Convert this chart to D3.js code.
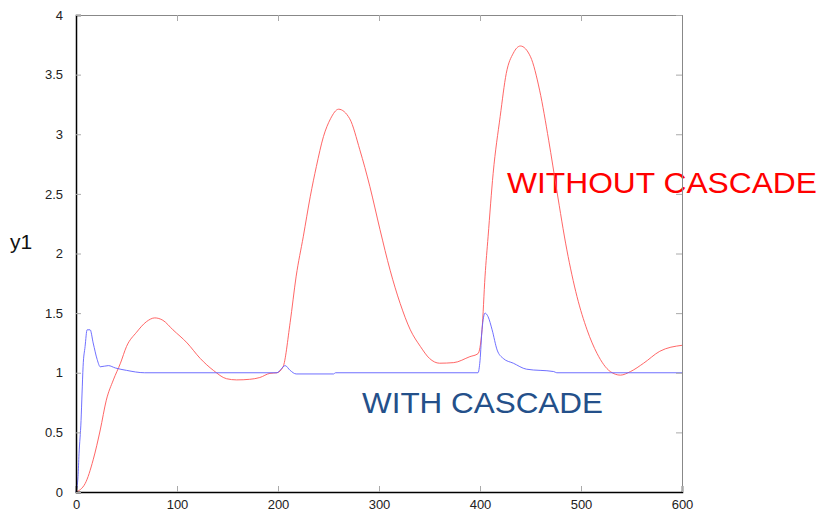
<!DOCTYPE html>
<html>
<head>
<meta charset="utf-8">
<script src="https://cdn.jsdelivr.net/npm/d3@7"></script>
<style>
  body { margin: 0; background: #fff; }
  svg text { font-family: "Liberation Sans", Arial, sans-serif; }
</style>
</head>
<body>
<svg id="chart" width="822" height="510"></svg>
<script>
// values
const xTicks = [0, 100, 200, 300, 400, 500, 600];
const yTicks = [0, 0.5, 1, 1.5, 2, 2.5, 3, 3.5, 4];

const withoutX = [0, 9, 17, 24, 30, 37, 44, 50, 60, 70, 78, 86, 96, 110, 123, 136, 149, 159, 172, 182, 192, 199,
  205, 212, 218, 225, 232, 238, 245, 252, 260, 271, 281, 291, 301, 311, 321, 331, 341, 350, 360, 374, 390, 398,
  402, 405, 408, 413, 420, 426, 433, 440, 450, 459, 468, 476, 486, 496, 506, 516, 529, 539, 549, 562, 578, 600];
const withoutY = [0, 0.07, 0.27, 0.52, 0.77, 0.94, 1.08, 1.22, 1.34, 1.43, 1.46, 1.44, 1.36, 1.25, 1.12, 1.02, 0.95, 0.94, 0.945, 0.96, 0.995, 1.0,
  1.05, 1.42, 1.81, 2.14, 2.48, 2.73, 2.98, 3.13, 3.21, 3.13, 2.87, 2.56, 2.2, 1.86, 1.58, 1.36, 1.22, 1.12, 1.08, 1.085, 1.135, 1.16,
  1.36, 1.81, 2.14, 2.67, 3.15, 3.51, 3.68, 3.74, 3.65, 3.37, 2.95, 2.53, 2.03, 1.64, 1.36, 1.16, 1.01, 0.98, 1.01, 1.08, 1.18, 1.23];

const withX = [0, 2, 3, 5, 6, 7, 9, 11, 14, 17, 21, 24, 32, 39, 50, 68, 199, 203, 207, 212, 218, 255, 257,
  398, 400, 402, 405, 408, 412, 417, 423, 433, 446, 473, 476, 600];
const withY = [0, 0.13, 0.32, 0.6, 0.83, 1.05, 1.22, 1.36, 1.36, 1.25, 1.11, 1.05, 1.06, 1.04, 1.02, 1.0, 1.0, 1.03, 1.06, 1.02, 0.99, 0.99, 1.0,
  1.0, 1.1, 1.36, 1.5, 1.47, 1.36, 1.19, 1.12, 1.08, 1.03, 1.01, 1.0, 1.0];

const svg = d3.select("#chart");
const x = d3.scaleLinear().domain([0, 600]).range([76, 682]);
const y = d3.scaleLinear().domain([0, 4]).range([492, 15]);

// labels go under the frame (the right border crosses the red text)
svg.append("text")
  .attr("x", 507).attr("y", 193)
  .attr("fill", "#ff0000")
  .attr("font-size", 30)
  .attr("textLength", 310)
  .attr("lengthAdjust", "spacingAndGlyphs")
  .text("WITHOUT CASCADE");

svg.append("text")
  .attr("x", 362).attr("y", 413)
  .attr("fill", "#24508a")
  .attr("font-size", 29)
  .attr("textLength", 241)
  .attr("lengthAdjust", "spacingAndGlyphs")
  .text("WITH CASCADE");

svg.append("text")
  .attr("x", 10).attr("y", 249)
  .attr("fill", "#111")
  .attr("font-size", 21)
  .text("y1");

const line = d3.line().curve(d3.curveMonotoneX).x(d => x(d[0])).y(d => y(d[1]));

svg.append("path")
  .datum(d3.zip(withoutX, withoutY))
  .attr("fill", "none")
  .attr("stroke", "#ff5555")
  .attr("stroke-width", 0.9)
  .attr("d", line);

svg.append("path")
  .datum(d3.zip(withX, withY))
  .attr("fill", "none")
  .attr("stroke", "#6060ff")
  .attr("stroke-width", 0.9)
  .attr("d", line);

// frame: gray on top and right, inward ticks
svg.append("g")
  .attr("transform", `translate(0,${y(4)})`)
  .call(d3.axisTop(x).tickValues(xTicks).tickSize(-6).tickFormat(""))
  .call(g => g.select(".domain").attr("stroke", "#888"))
  .call(g => g.selectAll(".tick line").attr("stroke", "#aaa"));

svg.append("g")
  .attr("transform", `translate(${x(600)},0)`)
  .call(d3.axisRight(y).tickValues(yTicks).tickSize(-6).tickFormat(""))
  .call(g => g.select(".domain").attr("stroke", "#888"))
  .call(g => g.selectAll(".tick line").attr("stroke", "#aaa"));

const xAxis = svg.append("g")
  .attr("transform", `translate(0,${y(0)})`)
  .call(d3.axisBottom(x).tickValues(xTicks).tickSize(-6).tickPadding(8).tickFormat(d3.format("d")));
xAxis.select(".domain").attr("stroke", "#000").attr("stroke-width", 1.5);
xAxis.selectAll(".tick line").attr("stroke", "#aaa");
xAxis.selectAll("text").attr("font-size", 13).attr("fill", "#222").attr("font-family", "Liberation Sans, Arial, sans-serif");

const yAxis = svg.append("g")
  .attr("transform", `translate(${x(0)},0)`)
  .call(d3.axisLeft(y).tickValues(yTicks).tickSize(-5).tickPadding(13).tickFormat(d => String(d)));
yAxis.select(".domain").attr("stroke", "#000").attr("stroke-width", 1.5);
yAxis.selectAll(".tick line").attr("stroke", "#aaa");
yAxis.selectAll("text").attr("font-size", 13).attr("fill", "#222").attr("font-family", "Liberation Sans, Arial, sans-serif");
</script>
</body>
</html>
